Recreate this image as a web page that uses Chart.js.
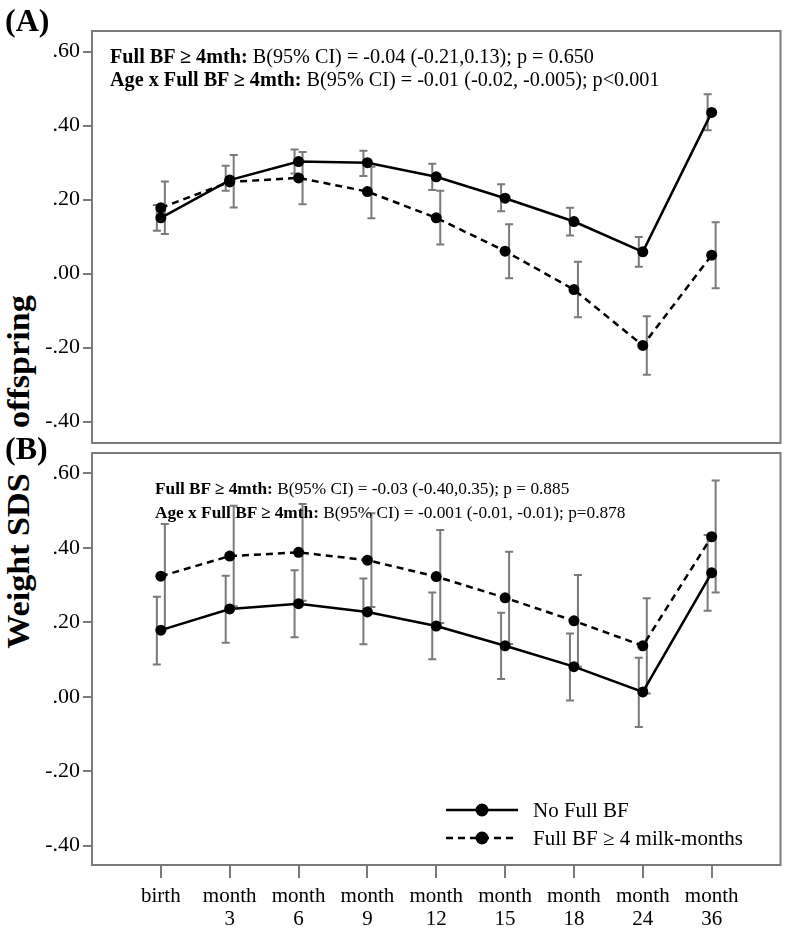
<!DOCTYPE html>
<html>
<head>
<meta charset="utf-8">
<script src="https://cdn.jsdelivr.net/npm/chart.js@4.4.0/dist/chart.umd.min.js"></script>
<style>
  body { margin: 0; background: #fff; }
  #wrap { position: relative; width: 786px; height: 928px; font-family: "Liberation Serif", "Times New Roman", serif; color: #000; }
  canvas { position: absolute; left: 0; }
  #topChart { top: 0; }
  #bottomChart { top: 430px; }
  .panel { position: absolute; left: 5px; font-weight: bold; font-size: 32px; line-height: 1; background: #fff; padding-right: 2px; }
  #ytitle { position: absolute; left: 18px; top: 472px; font-weight: bold; font-size: 31px; line-height: 1;
            white-space: nowrap; transform: translate(-50%, -50%) rotate(-90deg) scaleX(1.1); }
  .note { position: absolute; white-space: nowrap; }
</style>
</head>
<body>
<div id="wrap">
  <div id="ytitle">Weight SDS of offspring</div>
  <canvas id="topChart" width="786" height="470"></canvas>
  <canvas id="bottomChart" width="786" height="498"></canvas>
  <div class="panel" style="top:4px">(A)</div>
  <div class="panel" style="top:432px">(B)</div>
  <div class="note" style="left:110px; top:45px; font-size:20.2px; line-height:23px">
    <b>Full BF ≥ 4mth:</b> B(95% CI) = -0.04 (-0.21,0.13); p = 0.650<br>
    <b>Age x Full BF ≥ 4mth:</b> B(95% CI) = -0.01 (-0.02, -0.005); p&lt;0.001
  </div>
  <div class="note" style="left:155px; top:477px; font-size:17.3px; line-height:24px">
    <b>Full BF ≥ 4mth:</b> B(95% CI) = -0.03 (-0.40,0.35); p = 0.885<br>
    <b>Age x Full BF ≥ 4mth:</b> B(95% CI) = -0.001 (-0.01, -0.01); p=0.878
  </div>
</div>
<script>
// --- datos ---
const categories = ['birth', ['month', '3'], ['month', '6'], ['month', '9'], ['month', '12'],
                    ['month', '15'], ['month', '18'], ['month', '24'], ['month', '36']];
const seriesNames = ['No Full BF', 'Full BF \u2265 4 milk-months'];
const yTicks = [-0.4, -0.2, 0, 0.2, 0.4, 0.6];

// panel A
const topNoFull     = [0.151, 0.253, 0.303, 0.300, 0.262, 0.204, 0.141, 0.059, 0.436];
const topNoFullLow  = [0.116, 0.224, 0.271, 0.264, 0.226, 0.169, 0.103, 0.019, 0.388];
const topNoFullHigh = [0.186, 0.292, 0.336, 0.332, 0.297, 0.242, 0.178, 0.099, 0.485];
const topFull       = [0.178, 0.248, 0.259, 0.222, 0.151, 0.061, -0.043, -0.194, 0.050];
const topFullLow    = [0.107, 0.179, 0.188, 0.150, 0.079, -0.012, -0.118, -0.273, -0.039];
const topFullHigh   = [0.249, 0.321, 0.329, 0.289, 0.224, 0.134, 0.032, -0.115, 0.139];

// panel B
const botNoFull     = [0.179, 0.236, 0.250, 0.228, 0.190, 0.137, 0.081, 0.013, 0.333];
const botNoFullLow  = [0.087, 0.145, 0.160, 0.141, 0.101, 0.048, -0.010, -0.081, 0.231];
const botNoFullHigh = [0.269, 0.325, 0.340, 0.318, 0.280, 0.226, 0.170, 0.105, 0.435];
const botFull       = [0.324, 0.378, 0.388, 0.367, 0.323, 0.266, 0.204, 0.137, 0.430];
const botFullLow    = [0.184, 0.243, 0.258, 0.241, 0.198, 0.142, 0.081, 0.009, 0.280];
const botFullHigh   = [0.464, 0.513, 0.518, 0.493, 0.448, 0.390, 0.327, 0.265, 0.581];
// --- fin datos ---

const FONT = '"Liberation Serif", "Times New Roman", serif';
const GRAY = '#7a7a7a';

const toPoints = arr => arr.map((v, i) => ({ x: i, y: v }));
const fmtTick = v => v.toFixed(2).replace('0.', '.');

// caja alrededor del area
const framePlugin = {
  id: 'frame',
  afterDraw(chart) {
    const a = chart.chartArea, ctx = chart.ctx;
    ctx.save();
    ctx.strokeStyle = GRAY;
    ctx.lineWidth = 2;
    ctx.strokeRect(a.left, a.top, a.right - a.left, a.bottom - a.top);
    ctx.restore();
  }
};

// barras de error (IC 95%)
const errorBarPlugin = {
  id: 'errorBars',
  beforeDatasetsDraw(chart) {
    const ctx = chart.ctx, ys = chart.scales.y;
    ctx.save();
    ctx.strokeStyle = GRAY;
    ctx.lineWidth = 2;
    chart.data.datasets.forEach((ds, di) => {
      const meta = chart.getDatasetMeta(di);
      meta.data.forEach((pt, i) => {
        const x = pt.x + ds.errOffset;
        const y1 = ys.getPixelForValue(ds.errLow[i]);
        const y2 = ys.getPixelForValue(ds.errHigh[i]);
        ctx.beginPath();
        ctx.moveTo(x, y1); ctx.lineTo(x, y2);
        ctx.moveTo(x - 4, y1); ctx.lineTo(x + 4, y1);
        ctx.moveTo(x - 4, y2); ctx.lineTo(x + 4, y2);
        ctx.stroke();
      });
    });
    ctx.restore();
  }
};

// leyenda dentro del panel B
const legendPlugin = {
  id: 'insideLegend',
  afterDraw(chart, args, opts) {
    if (!opts.show) return;
    const ctx = chart.ctx;
    ctx.save();
    chart.data.datasets.forEach((ds, i) => {
      const y = chart.chartArea.bottom - 55 + i * 28;
      ctx.strokeStyle = '#000';
      ctx.lineWidth = 2.5;
      ctx.setLineDash(ds.borderDash || []);
      ctx.beginPath();
      ctx.moveTo(446, y); ctx.lineTo(518, y);
      ctx.stroke();
      ctx.setLineDash([]);
      ctx.fillStyle = '#000';
      ctx.beginPath();
      ctx.arc(482, y, 6.5, 0, Math.PI * 2);
      ctx.fill();
      ctx.font = '21px ' + FONT;
      ctx.textBaseline = 'middle';
      ctx.fillText(ds.label, 533, y + 1);
    });
    ctx.restore();
  }
};

function makePanel(canvasId, solid, solidLo, solidHi, dashed, dashedLo, dashedHi, yMin, yMax, bottomPanel) {
  const ctx = document.getElementById(canvasId).getContext('2d');
  return new Chart(ctx, {
    type: 'line',
    data: {
      datasets: [
        {
          label: seriesNames[0],
          data: toPoints(solid),
          errLow: solidLo, errHigh: solidHi, errOffset: -4,
          borderColor: '#000', borderWidth: 2.5,
          pointRadius: 5.5, pointBackgroundColor: '#000', pointBorderWidth: 0
        },
        {
          label: seriesNames[1],
          data: toPoints(dashed),
          errLow: dashedLo, errHigh: dashedHi, errOffset: 4,
          borderColor: '#000', borderWidth: 2.5, borderDash: [7, 5],
          pointRadius: 5.5, pointBackgroundColor: '#000', pointBorderWidth: 0
        }
      ]
    },
    options: {
      responsive: false,
      animation: false,
      layout: { padding: bottomPanel ? { top: 23, right: 4, bottom: 0, left: 0 }
                                     : { top: 31, right: 4, bottom: 27, left: 0 } },
      plugins: {
        legend: { display: false },
        tooltip: { enabled: false },
        insideLegend: { show: bottomPanel }
      },
      scales: {
        x: {
          type: 'linear', min: -1, max: 9,
          display: bottomPanel,
          afterBuildTicks: s => { s.ticks = categories.map((c, i) => ({ value: i })); },
          afterFit: s => { if (bottomPanel) s.height = 63; },
          ticks: {
            autoSkip: false, maxRotation: 0, padding: 7,
            color: '#000', font: { family: FONT, size: 21, lineHeight: 1.1 },
            callback: v => categories[v]
          },
          grid: { drawOnChartArea: false, tickLength: 13, color: GRAY, lineWidth: 2 },
          border: { display: false }
        },
        y: {
          min: yMin, max: yMax,
          afterBuildTicks: s => { s.ticks = yTicks.map(v => ({ value: v })); },
          afterFit: s => { s.width = 92; },
          ticks: { padding: 3, color: '#000', font: { family: FONT, size: 22 }, callback: fmtTick },
          grid: { drawOnChartArea: false, tickLength: 9, color: GRAY, lineWidth: 2 },
          border: { display: false }
        }
      }
    },
    plugins: [errorBarPlugin, framePlugin, legendPlugin]
  });
}

makePanel('topChart', topNoFull, topNoFullLow, topNoFullHigh, topFull, topFullLow, topFullHigh,
          -0.4576, 0.656, false);
makePanel('bottomChart', botNoFull, botNoFullLow, botNoFullHigh, botFull, botFullLow, botFullHigh,
          -0.452, 0.655, true);
</script>
</body>
</html>
